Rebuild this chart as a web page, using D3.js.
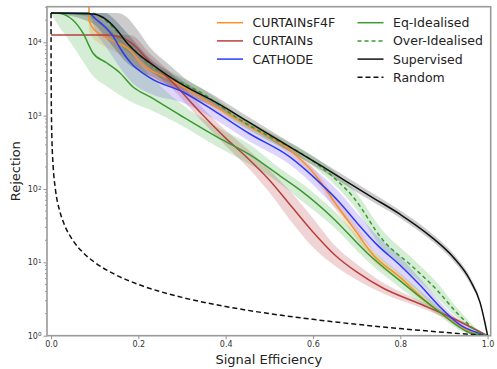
<!DOCTYPE html>
<html><head><meta charset="utf-8">
<script src="https://cdn.jsdelivr.net/npm/d3@7"></script>
<style>body{margin:0;background:#fff} svg{display:block}</style>
</head><body>
<svg id="chart" width="497" height="369"></svg>
<script>
// ROC-style comparison: rejection vs. signal efficiency
const xTicks = [0, 0.2, 0.4, 0.6, 0.8, 1.0];
const yTicks = [1, 10, 100, 1000, 10000];

// CURTAINsF4F
const f4fEff = [0.0868, 0.087, 0.094, 0.108, 0.128, 0.158, 0.181, 0.204, 0.227, 0.261, 0.302, 0.380, 0.456, 0.547, 0.609, 0.646, 0.701, 0.738, 0.799, 0.861, 0.921, 0.976, 1.0];
const f4fRej = [40000, 20100, 16200, 13400, 11450, 9480, 7850, 5390, 4190, 3370, 2460, 1300, 701, 340, 146, 70.8, 25.1, 12.6, 6.3, 2.88, 1.54, 1.05, 1];
const f4fHi  = [40000, 25100, 25100, 22000, 17000, 13500, 10500, 7200, 5300, 4100, 2900, 1550, 780, 385, 170, 85, 31, 15, 7.2, 3.2, 1.65, 1.07, 1];
const f4fLo  = [40000, 15000, 12000, 10000, 8400, 6800, 5600, 4200, 3300, 2750, 2050, 1100, 620, 295, 125, 58, 20.5, 10.5, 5.5, 2.6, 1.45, 1.03, 1];

// CURTAINs
const curEff = [0, 0.13, 0.181, 0.227, 0.273, 0.341, 0.40, 0.45, 0.50, 0.55, 0.60, 0.65, 0.70, 0.76, 0.84, 0.914, 1.0];
const curRej = [12600, 12600, 10100, 5380, 3060, 1120, 494, 265, 133, 58.6, 25.9, 12.6, 7.4, 4.47, 2.79, 1.80, 1];
const curHi  = [12600, 12600, 12600, 7000, 3900, 1400, 630, 350, 185, 90, 40, 17, 9.5, 5.3, 3.1, 1.95, 1];
const curLo  = [12600, 12600, 8000, 4300, 2450, 900, 390, 200, 90, 36, 16, 9.0, 5.8, 3.8, 2.5, 1.65, 1];

// CATHODE
const catEff = [0, 0.085, 0.105, 0.124, 0.140, 0.158, 0.181, 0.227, 0.302, 0.380, 0.456, 0.547, 0.616, 0.662, 0.701, 0.747, 0.799, 0.845, 0.891, 0.937, 1.0];
const catRej = [25100, 25100, 20100, 16200, 12600, 8360, 5380, 3260, 2100, 1100, 562, 274, 121, 64.5, 34.4, 17.3, 9.2, 4.9, 2.46, 1.40, 1];
const catHi  = [25100, 25100, 25100, 25100, 22000, 17000, 12000, 6000, 3000, 1450, 700, 340, 160, 88, 47, 23, 12, 6.0, 2.9, 1.55, 1];
const catLo  = [25100, 25100, 13000, 9000, 6500, 4500, 3000, 2000, 1500, 850, 440, 215, 92, 47, 25, 12.8, 7.0, 3.9, 2.1, 1.28, 1];

// Eq-Idealised
const eqEff = [0, 0.014, 0.050, 0.073, 0.096, 0.128, 0.158, 0.188, 0.227, 0.295, 0.380, 0.456, 0.525, 0.570, 0.646, 0.724, 0.806, 0.884, 0.960, 1.0];
const eqRej = [25100, 25100, 20100, 13400, 7150, 5220, 3820, 2460, 1800, 1020, 512, 291, 150, 97, 40, 13.4, 5.2, 2.24, 1.09, 1];
const eqHi  = [25100, 25100, 25100, 25100, 22000, 16000, 11000, 6500, 3500, 1500, 700, 400, 190, 125, 52, 17, 6.5, 2.6, 1.15, 1];
const eqLo  = [25100, 18000, 9000, 5500, 3500, 2500, 1900, 1500, 1200, 760, 380, 215, 118, 72, 31, 10.5, 4.2, 1.95, 1.05, 1];

// Over-Idealised
const ovEff = [0, 0.089, 0.124, 0.147, 0.181, 0.227, 0.273, 0.341, 0.433, 0.502, 0.586, 0.646, 0.692, 0.760, 0.829, 0.884, 0.930, 0.983, 1.0];
const ovRej = [25100, 25100, 20100, 14700, 9180, 4900, 3360, 2100, 873, 512, 274, 146, 78, 20.2, 8.65, 4.2, 2.04, 1.09, 1];
const ovHi  = [25100, 25100, 25100, 20000, 12000, 6000, 4000, 2450, 1000, 590, 320, 178, 100, 27, 11.2, 5.3, 2.4, 1.15, 1];
const ovLo  = [25100, 22000, 15000, 10500, 7000, 4000, 2800, 1800, 760, 445, 235, 120, 60, 15, 6.6, 3.3, 1.75, 1.04, 1];

// Supervised
const supEff = [0, 0.096, 0.128, 0.151, 0.174, 0.197, 0.227, 0.266, 0.302, 0.380, 0.456, 0.525, 0.623, 0.731, 0.800, 0.868, 0.921, 0.960, 0.983, 0.994, 1.0];
const supRej = [25100, 24300, 20100, 14700, 9800, 7150, 5220, 3580, 2620, 1490, 795, 450, 200, 80, 45, 23, 11.8, 5.7, 2.8, 1.49, 1];
const supHi  = [25100, 25100, 25100, 25100, 22000, 15000, 8500, 5200, 3400, 1800, 930, 520, 230, 92, 51, 26, 13.2, 6.3, 3.0, 1.55, 1];
const supLo  = [25100, 18000, 11000, 7500, 5200, 4200, 3500, 2600, 2050, 1250, 690, 390, 175, 70, 40, 20.5, 10.5, 5.1, 2.6, 1.43, 1];

// Random classifier
const rndEff = [0.00004, 0.0001, 0.0003, 0.001, 0.002, 0.005, 0.01, 0.02, 0.03, 0.05, 0.075, 0.1, 0.15, 0.2, 0.3, 0.4, 0.5, 0.6, 0.7, 0.8, 0.9, 1.0];
const rndRej = [25000, 10000, 3333, 1000, 500, 200, 100, 50, 33.3, 20, 13.3, 10, 6.67, 5, 3.33, 2.5, 2, 1.67, 1.43, 1.25, 1.11, 1];

const series = [
  {name: "CURTAINsF4F", color: "#fb8f2a", band: "#ff8c1a", bandOp: 0.22, eff: f4fEff, rej: f4fRej, lo: f4fLo, hi: f4fHi, dash: null},
  {name: "CURTAINs", color: "#b8403c", band: "#c44e52", bandOp: 0.25, eff: curEff, rej: curRej, lo: curLo, hi: curHi, dash: null},
  {name: "CATHODE", color: "#2b3cf5", band: "#7a5cff", bandOp: 0.25, eff: catEff, rej: catRej, lo: catLo, hi: catHi, dash: null},
  {name: "Eq-Idealised", color: "#3a9a30", band: "#2ca02c", bandOp: 0.2, eff: eqEff, rej: eqRej, lo: eqLo, hi: eqHi, dash: null},
  {name: "Over-Idealised", color: "#3a9a30", band: "#2ca02c", bandOp: 0.2, eff: ovEff, rej: ovRej, lo: ovLo, hi: ovHi, dash: "4,3"},
  {name: "Supervised", color: "#111", band: "#000", bandOp: 0.2, eff: supEff, rej: supRej, lo: supLo, hi: supHi, dash: null},
  {name: "Random", color: "#111", band: null, eff: rndEff, rej: rndRej, dash: "5,3"}
];

const svg = d3.select("#chart");
const L = 47, R = 490.7, T = 6.7, B = 335.7;
const x = d3.scaleLinear().domain([-0.0092, 1.0071]).range([L, R]);
const y = d3.scaleLog().domain([1, 30550]).range([B, T]);

svg.append("defs").append("clipPath").attr("id", "plotClip")
  .append("rect").attr("x", L).attr("y", T).attr("width", R - L).attr("height", B - T);

const plot = svg.append("g").attr("clip-path", "url(#plotClip)");

const area = d3.area().curve(d3.curveMonotoneX)
  .x(d => x(d[0])).y0(d => y(d[1])).y1(d => y(d[2]));
const line = d3.line().curve(d3.curveMonotoneX)
  .x(d => x(d[0])).y(d => y(d[1]));

// bands first, then lines
series.forEach(s => {
  if (!s.band) return;
  const pts = s.eff.map((e, i) => [e, s.lo[i], s.hi[i]]);
  plot.append("path").attr("d", area(pts))
    .attr("fill", s.band).attr("fill-opacity", s.bandOp).attr("stroke", "none");
});
series.forEach(s => {
  const pts = s.eff.map((e, i) => [e, s.rej[i]]);
  plot.append("path").attr("d", line(pts))
    .attr("fill", "none").attr("stroke", s.color).attr("stroke-width", 1.5)
    .attr("stroke-dasharray", s.dash).attr("stroke-linejoin", "round");
});

// axes
const tickColor = "#777", labelColor = "#333";
const xAxis = svg.append("g").attr("transform", `translate(0,${B})`)
  .call(d3.axisBottom(x).tickValues(xTicks).tickFormat(d3.format(".1f")).tickSize(3.5).tickPadding(2));
const yAxis = svg.append("g").attr("transform", `translate(${L},0)`)
  .call(d3.axisLeft(y).tickValues(yTicks).tickSize(3.5).tickPadding(2).tickFormat(() => ""));

// minor log ticks
const minor = [];
for (let p = 0; p < 5; p++) for (let m = 2; m <= 9; m++) {
  const v = m * Math.pow(10, p);
  if (v < 30550) minor.push(v);
}
svg.append("g").selectAll("line").data(minor).join("line")
  .attr("x1", L).attr("x2", L - 2).attr("y1", d => y(d)).attr("y2", d => y(d))
  .attr("stroke", tickColor).attr("stroke-width", 0.7);

[xAxis, yAxis].forEach(a => {
  a.select(".domain").remove();
  a.selectAll(".tick line").attr("stroke", tickColor).attr("stroke-width", 0.8);
  a.selectAll(".tick text").attr("fill", labelColor)
    .style("font-family", "DejaVu Sans").style("font-size", "8px");
});

// y tick labels as 10 with superscript exponent
yAxis.selectAll(".tick").each(function(d) {
  const t = d3.select(this).select("text");
  t.text(null).attr("x", -5.5).attr("dy", "0.32em");
  t.append("tspan").text("10");
  t.append("tspan").text(String(Math.round(Math.log10(d))))
    .attr("dy", "-0.45em").style("font-size", "5.6px");
});

// frame
svg.append("rect").attr("x", L).attr("y", T).attr("width", R - L).attr("height", B - T)
  .attr("fill", "none").attr("stroke", "#999").attr("stroke-width", 1.6);

// axis titles
svg.append("text").attr("x", (L + R) / 2).attr("y", 364).attr("text-anchor", "middle")
  .style("font-family", "DejaVu Sans").style("font-size", "13px").attr("fill", "#222")
  .text("Signal Efficiency");
svg.append("text").attr("transform", `translate(20,${(T + B) / 2}) rotate(-90)`)
  .attr("text-anchor", "middle")
  .style("font-family", "DejaVu Sans").style("font-size", "13px").attr("fill", "#222")
  .text("Rejection");

// legend, two columns
const legendCols = [
  {x: 217, items: series.slice(0, 3)},
  {x: 357.5, items: series.slice(3)}
];
legendCols.forEach(col => {
  col.items.forEach((s, i) => {
    const yy = 22.7 + i * 18.2;
    svg.append("line").attr("x1", col.x).attr("x2", col.x + 26).attr("y1", yy).attr("y2", yy)
      .attr("stroke", s.color).attr("stroke-width", 1.5).attr("stroke-dasharray", s.dash);
    svg.append("text").attr("x", col.x + 35.5).attr("y", yy).attr("dy", "0.36em")
      .style("font-family", "DejaVu Sans").style("font-size", "12.5px").attr("fill", "#222")
      .text(s.name);
  });
});
</script>
</body></html>
